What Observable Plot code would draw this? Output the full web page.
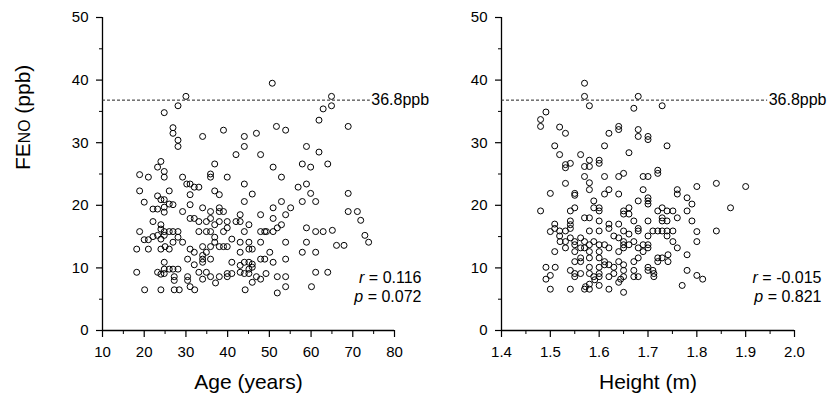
<!DOCTYPE html>
<html>
<head>
<meta charset="utf-8">
<script src="https://cdn.jsdelivr.net/npm/d3@7"></script>
<script src="https://cdn.jsdelivr.net/npm/@observablehq/plot@0.6"></script>
<style>
  html, body { margin: 0; padding: 0; background: #fff; }
  #wrap { position: relative; width: 828px; height: 404px; overflow: hidden; }
  #left, #right { position: absolute; top: 0; }
  #left { left: 0; }
  #right { left: 400px; }
</style>
</head>
<body>
<div id="wrap"><div id="left"></div><div id="right"></div></div>
<script>
// ---- Data ----
const age = [18.2,18.2,18.9,18.9,18.9,20,20,20.1,21,21,21,22.1,22.1,22.1,23.2,23.2,23.2,23.2,23.2,24,24,24,24,24,24,24,24,24.8,24.8,24.8,24.8,24.8,24.8,24.8,24.8,24.8,24.8,24.8,25,26,26,26,26,26,26.9,26.9,26.9,26.9,26.9,26.9,27.2,27.2,27.2,28.1,28.1,28.1,28.1,28.1,28.1,28.4,29.2,29.2,29.2,30,30.2,30.4,30.4,30.4,31,31,31,31,31,31,32,32,32,32,32.1,33.1,33.1,33.1,33.1,34,34,34,34,34,34,34,34.9,34.9,34.9,34.9,35.9,35.9,35.9,35.9,35.9,35.9,35.9,35.9,36.9,36.9,36.9,36.9,36.9,37.1,38,38,38,38,38,38,39,39,39,39,39.9,39.9,39.9,39.9,39.9,39.9,41,41,41,42,42,43,43,43,43,43,43,44,44,44,44,44,44,44,44.2,45.1,45.1,45.1,45.1,45.1,45.1,45.9,45.9,45.9,45.9,45.9,46.9,46.9,47.9,47.9,47.9,47.9,47.9,47.9,48.9,48.9,49.2,49.3,50.1,50.7,50.9,50.9,50.9,50.9,50.9,51.7,51.9,51.9,51.9,52.9,52.9,52.9,53.9,53.9,53.9,53.9,53.9,53.9,55.1,56.9,57.9,57.9,57.9,58.9,58.9,58.9,58.9,59.9,59.9,60.1,61.1,61.1,61.1,61.1,61.9,61.9,62.9,62.9,64,64,64.9,64.9,65.1,66.1,67.9,68.9,68.9,68.9,71.1,71.9,72.9,73.8];
const fenoByAge = [13.0,9.3,15.8,22.3,24.9,20.5,14.5,6.5,24.5,14.5,13,17.4,19.4,15,26.1,21.5,19.4,15.2,9.3,27,20.9,16.9,16.2,14.6,13,9,6.5,25.4,24.5,20.9,19.7,18.9,15.8,15.2,10.9,9.8,9.1,34.8,13.4,22.3,20.2,15.8,13,9.8,32.4,31.5,20.1,15.8,14.1,9.8,8.6,8,6.5,35.9,30.4,29.4,15.8,14.9,9.8,6.5,24.5,19,14.1,37.4,23.4,11.4,8.6,8,23.4,21.7,20.1,17.9,13,7,22.9,17.9,12.5,10.5,6.5,22.9,17.4,15.8,9.3,31,19.6,13.4,12,11.4,10.9,8.2,17.4,15.8,12.5,9.3,25,24.5,19,17.9,15.8,13.4,11.4,8.6,26.6,22.3,16.9,14.9,14.1,7.6,21.7,19.6,19,17.4,13.4,8.6,32,19,15.8,13.4,24.5,17.4,16.4,13.4,9.1,8.6,14.6,10.9,9.1,28.1,17.4,18.5,17.4,14.1,12.5,10.4,9.3,31,29.4,23.4,20.6,15.8,10.9,9.1,6.5,16.9,14.1,13,10.9,9.8,9.1,21.8,13,10.6,10.1,7.7,31.5,8.6,28.1,18.5,15.8,14.1,11.4,8.2,15.8,11.4,9.1,15.8,12.5,39.5,26.1,19.6,17.9,15.8,10.9,32.6,16.4,8.6,6,24.5,20.6,16.9,32,18.5,14.1,11.4,8.6,7,19.6,22.9,26.6,20.6,12.5,29.4,23.4,16.4,14.1,26.1,21.9,7,20.6,15.8,12.5,9.3,33.6,28.5,35.4,15.8,26.6,9.3,37.4,35.9,16,13.6,13.6,32.6,21.9,19,19,17.6,15.2,14.1];

const heightM = [1.48,1.48,1.48,1.491,1.491,1.491,1.50,1.50,1.50,1.50,1.509,1.509,1.509,1.509,1.51,1.519,1.519,1.519,1.519,1.52,1.531,1.531,1.531,1.531,1.531,1.531,1.531,1.541,1.541,1.541,1.541,1.541,1.541,1.541,1.541,1.55,1.55,1.55,1.55,1.55,1.55,1.55,1.55,1.55,1.562,1.562,1.562,1.562,1.562,1.562,1.57,1.57,1.57,1.57,1.57,1.57,1.57,1.57,1.572,1.58,1.58,1.58,1.58,1.58,1.58,1.58,1.58,1.58,1.58,1.58,1.58,1.58,1.58,1.589,1.589,1.589,1.589,1.591,1.60,1.60,1.60,1.60,1.60,1.60,1.60,1.60,1.60,1.60,1.60,1.60,1.60,1.611,1.611,1.611,1.611,1.611,1.611,1.62,1.62,1.62,1.62,1.62,1.62,1.62,1.62,1.63,1.63,1.63,1.64,1.64,1.64,1.64,1.64,1.64,1.64,1.64,1.64,1.644,1.65,1.65,1.65,1.65,1.65,1.65,1.65,1.65,1.65,1.65,1.65,1.661,1.661,1.661,1.661,1.661,1.671,1.671,1.671,1.671,1.671,1.671,1.68,1.68,1.68,1.68,1.68,1.68,1.68,1.68,1.68,1.69,1.69,1.69,1.69,1.70,1.70,1.70,1.70,1.70,1.70,1.70,1.70,1.70,1.70,1.70,1.70,1.71,1.71,1.712,1.712,1.72,1.72,1.72,1.72,1.72,1.72,1.729,1.729,1.729,1.729,1.729,1.729,1.739,1.739,1.739,1.739,1.739,1.741,1.741,1.751,1.751,1.751,1.76,1.76,1.76,1.76,1.77,1.78,1.78,1.78,1.78,1.79,1.79,1.80,1.80,1.80,1.80,1.812,1.84,1.84,1.869,1.90];
const fenoByHeight = [33.7,32.6,19.1,34.9,10.1,8.2,21.9,15.8,8.8,6.6,29.5,17,16.3,12.6,10.1,28.1,32.5,15.9,15.1,14.2,31.5,26.5,26,23.5,15.9,14.2,13.2,26.7,19.1,17.5,16.9,16.3,14.8,9.6,6.6,21.9,21.6,19.6,14.2,13.7,12.6,11,9.1,8.6,28.1,14.8,13.2,11.6,11,9.1,39.5,37.4,26.2,24.6,18,14.2,13.2,6.6,7,35.9,27.2,26.2,23.6,22.5,18,15.9,13.7,12.6,11.6,10.1,9.1,7.4,6.6,20.7,19.6,14.2,8.6,8.1,27.2,26.7,19.6,19.1,17.5,15.9,13.7,12.6,11.6,10.1,9.1,8.6,7.2,29.5,24.6,21.8,13.7,11,10.5,31.5,22.5,17,16.3,13.2,10.5,8.6,6.6,15.1,10.1,9.1,32.6,32.1,24.6,21.8,17,14.8,12.6,11,7.7,8.2,25.1,19.1,18.6,15.9,14.2,13.7,13.2,10.5,9.6,8.6,6.1,28.4,19.6,18.6,15.4,13.7,35.5,17.5,14.2,11,9.6,8.6,37.4,32.1,31,20.7,16.3,15.9,13.2,11.6,8.6,24.6,22.5,13.7,12.6,31,30.5,24.6,21.2,20.7,20.2,17.5,15.1,13.7,13.2,10.1,9.6,15.9,9.6,9.1,8.6,25.6,25.1,19.1,15.9,11.6,11,35.9,19.6,18,17.5,15.9,11.6,29.5,19.1,17.5,15.9,15.1,12.1,11,19.1,15.9,14.2,22.5,21.8,18,13.2,7.2,21.2,19.1,12.1,9.6,20.2,17.5,23,15.8,14.2,8.8,8.2,23.5,15.9,19.6,23];

const threshold = 36.8;
const thresholdLabel = "36.8ppb";
const ageTicks = [10,20,30,40,50,60,70,80];
const ageMinor = [15,25,35,45,55,65,75];
const heightTicks = [1.4,1.5,1.6,1.7,1.8,1.9,2.0];
const heightMinor = [1.45,1.55,1.65,1.75,1.85,1.95];
const yTicks = [0,10,20,30,40,50];
const yMinor = [5,15,25,35,45];
const statsAge = ["r = 0.116", "p = 0.072"];
const statsHeight = ["r = -0.015", "p = 0.821"];

const FONT = "'Liberation Sans', Arial, Helvetica, sans-serif";

function panel({xs, ys, xDomain, xTicks, xMinor, xFmt, xLabel, lineEnd, stats, width, mLeft, mRight, yLabel}) {
  const data = xs.map((x, i) => ({x, y: ys[i]}));
  const marks = [
    Plot.axisY({ticks: yTicks, tickSize: 6, tickPadding: 8, fontSize: 15, label: null, strokeWidth: 1.2}),
    Plot.axisY({ticks: yMinor, tickSize: 3, text: null, label: null}),
    Plot.axisX({ticks: xTicks, tickSize: 7, tickPadding: 9, fontSize: 15, label: null, tickFormat: xFmt, strokeWidth: 1.2}),
    Plot.axisX({ticks: xMinor, tickSize: 4, text: null, label: null}),
    Plot.ruleX([xDomain[0]], {stroke: "black", strokeWidth: 1.3}),
    Plot.ruleY([0], {stroke: "black", strokeWidth: 1.3}),
    Plot.ruleY([threshold], {x1: xDomain[0], x2: lineEnd, stroke: "#222", strokeWidth: 1, strokeDasharray: "3,2"}),
    Plot.text([thresholdLabel], {x: lineEnd, y: threshold, text: d => d, textAnchor: "start", fontSize: 16, dx: 1, fill: "black"}),
    Plot.dot(data, {x: "x", y: "y", r: 3, stroke: "black", strokeWidth: 1, fill: "none"}),
    Plot.text([stats[0]], {text: d => d, frameAnchor: "bottom-right", dx: 27, dy: -48, fontSize: 16, textAnchor: "end", fill: "black"}),
    Plot.text([stats[1]], {text: d => d, frameAnchor: "bottom-right", dx: 27, dy: -29, fontSize: 16, textAnchor: "end", fill: "black"}),
    Plot.text([xLabel], {text: d => d, frameAnchor: "bottom", dy: 58, fontSize: 21, fill: "black"})
  ];
  if (yLabel) {
    marks.push(Plot.text([yLabel], {text: d => d, frameAnchor: "left", dx: -79, dy: -4, rotate: -90, fontSize: 21, fill: "black"}));
  }
  const svg = Plot.plot({
    width, height: 404,
    marginLeft: mLeft, marginRight: mRight, marginTop: 17, marginBottom: 74,
    style: {fontFamily: FONT, background: "transparent", overflow: "visible", color: "black"},
    x: {domain: xDomain},
    y: {domain: [0, 50]},
    marks
  });
  // rich text: italic r/p, small-caps NO
  svg.querySelectorAll("text").forEach(t => {
    const s = t.textContent;
    if (/^[rp] = /.test(s)) {
      t.textContent = "";
      const a = document.createElementNS("http://www.w3.org/2000/svg", "tspan");
      a.setAttribute("font-style", "italic");
      a.textContent = s[0];
      const b = document.createElementNS("http://www.w3.org/2000/svg", "tspan");
      b.textContent = s.slice(1);
      t.append(a, b);
    } else if (s === "FENO (ppb)") {
      t.textContent = "";
      const parts = [["FE", null], ["NO", "75%"], [" (ppb)", null]];
      for (const [txt, fs] of parts) {
        const sp = document.createElementNS("http://www.w3.org/2000/svg", "tspan");
        if (fs) sp.setAttribute("font-size", fs);
        sp.textContent = txt;
        t.append(sp);
      }
    }
  });
  return svg;
}

document.getElementById("left").append(panel({
  xs: age, ys: fenoByAge, xDomain: [10, 80], xTicks: ageTicks, xMinor: ageMinor,
  xFmt: d => String(d), xLabel: "Age (years)", lineEnd: 74.2, stats: statsAge,
  width: 430, mLeft: 102, mRight: 36, yLabel: "FENO (ppb)"
}));
document.getElementById("right").append(panel({
  xs: heightM, ys: fenoByHeight, xDomain: [1.4, 2.0], xTicks: heightTicks, xMinor: heightMinor,
  xFmt: d => d.toFixed(1), xLabel: "Height (m)", lineEnd: 1.945, stats: statsHeight,
  width: 428, mLeft: 101, mRight: 34, yLabel: null
}));
</script>
</body>
</html>
